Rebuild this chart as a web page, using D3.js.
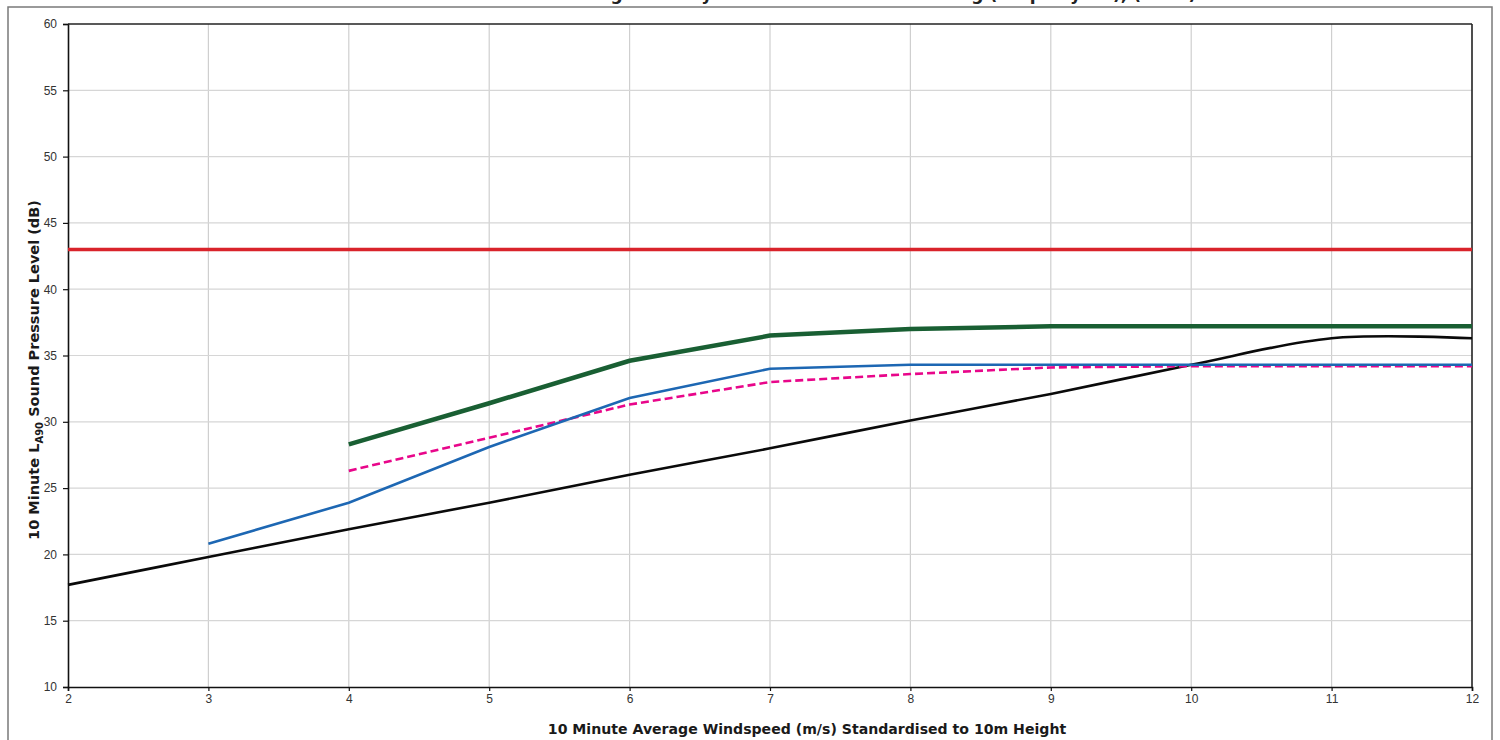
<!DOCTYPE html>
<html><head><meta charset="utf-8">
<script src="https://cdn.jsdelivr.net/npm/d3@7"></script>
<style>html,body{margin:0;padding:0;background:#fff;overflow:hidden}</style>
</head><body>
<svg id="chart" width="1500" height="740"></svg>
<script>
const titleText = "Predicted Turbine Noise against Daytime Noise Limit at Dwelling (Property H1), (LA90)";
const xTicks = [2,3,4,5,6,7,8,9,10,11,12];
const yTicks = [10,15,20,25,30,35,40,45,50,55,60];

const limitX = [2,12];
const limitY = [43,43];

const greenX = [4,5,6,7,8,9,10,11,12];
const greenY = [28.3,31.4,34.6,36.5,37.0,37.2,37.2,37.2,37.2];

const blueX = [3,4,5,6,7,8,9,10,11,12];
const blueY = [20.8,23.9,28.1,31.8,34.0,34.3,34.3,34.3,34.3,34.3];

const pinkX = [4,5,6,7,8,9,10,11,12];
const pinkY = [26.3,28.8,31.3,33.0,33.6,34.1,34.2,34.2,34.2];

const blackX = [2,3,4,5,6,7,8,9,10,11,12];
const blackY = [17.7,19.8,21.9,23.9,26.0,28.0,30.1,32.1,34.3,36.3,36.3];

const svg = d3.select("#chart");
const L=68, R=1472, T=24, B=687;
const x = d3.scaleLinear().domain([2,12]).range([L,R]);
const y = d3.scaleLinear().domain([10,60]).range([B,T]);

// outer frame
svg.append("rect").attr("x",8).attr("y",7).attr("width",1484).attr("height",760)
  .attr("fill","none").attr("stroke","#7a7a7a").attr("stroke-width",1.5);

// title (mostly above the visible area, as in the reference)
svg.append("text").attr("x",780).attr("y",0).attr("text-anchor","middle")
  .attr("font-family","DejaVu Sans, sans-serif").attr("font-weight","bold").attr("font-size",17)
  .attr("fill","#222").text(titleText);

// gridlines
svg.append("g").selectAll("line").data(xTicks.slice(1,-1)).join("line")
  .attr("x1",d=>x(d)).attr("x2",d=>x(d)).attr("y1",T).attr("y2",B)
  .attr("stroke","#cfcfcf").attr("stroke-width",1.2);
svg.append("g").selectAll("line").data(yTicks.slice(1,-1)).join("line")
  .attr("x1",L).attr("x2",R).attr("y1",d=>y(d)).attr("y2",d=>y(d))
  .attr("stroke","#d6d6d6").attr("stroke-width",1.2);

// axes
const fontTick = "Liberation Sans, Arial, sans-serif";
const xAxis = svg.append("g").attr("transform",`translate(0,${B})`)
  .call(d3.axisBottom(x).tickValues(xTicks).tickFormat(d3.format("d")).tickSize(4).tickPadding(3));
const yAxis = svg.append("g").attr("transform",`translate(${L},0)`)
  .call(d3.axisLeft(y).tickValues(yTicks).tickFormat(d3.format("d")).tickSize(5).tickPadding(6));
[xAxis,yAxis].forEach(a=>{
  a.select(".domain").attr("stroke","#111").attr("stroke-width",1.6);
  a.selectAll(".tick line").attr("stroke","#111").attr("stroke-width",1.2);
  a.selectAll(".tick text").attr("font-family",fontTick).attr("font-size",12).attr("fill","#333");
});
// top and right plot border
svg.append("line").attr("x1",L).attr("x2",R).attr("y1",T).attr("y2",T).attr("stroke","#222").attr("stroke-width",1.6);
svg.append("line").attr("x1",R).attr("x2",R).attr("y1",T).attr("y2",B).attr("stroke","#222").attr("stroke-width",1.6);

// series
const lineStraight = d3.line().x(d=>x(d[0])).y(d=>y(d[1]));
const lineSmooth = d3.line().x(d=>x(d[0])).y(d=>y(d[1])).curve(d3.curveCardinal.tension(0));
const zip = (a,b)=>a.map((v,i)=>[v,b[i]]);

svg.append("path").datum(zip(blackX,blackY)).attr("d",lineSmooth)
  .attr("fill","none").attr("stroke","#0a0a0a").attr("stroke-width",2.6);
svg.append("path").datum(zip(pinkX,pinkY)).attr("d",lineStraight)
  .attr("fill","none").attr("stroke","#e8068a").attr("stroke-width",2.6).attr("stroke-dasharray","8,4");
svg.append("path").datum(zip(blueX,blueY)).attr("d",lineStraight)
  .attr("fill","none").attr("stroke","#1d67b3").attr("stroke-width",2.6);
svg.append("path").datum(zip(greenX,greenY)).attr("d",lineStraight)
  .attr("fill","none").attr("stroke","#195f33").attr("stroke-width",4.5);
svg.append("path").datum(zip(limitX,limitY)).attr("d",lineStraight)
  .attr("fill","none").attr("stroke","#d9232b").attr("stroke-width",3.5);

// axis titles
svg.append("text").attr("x",807).attr("y",734).attr("text-anchor","middle")
  .attr("font-family","DejaVu Sans, sans-serif").attr("font-weight","bold").attr("font-size",14.1)
  .attr("fill","#1a1a1a").text("10 Minute Average Windspeed (m/s) Standardised to 10m Height");

const yl = svg.append("text").attr("transform","translate(39,370) rotate(-90)").attr("text-anchor","middle")
  .attr("font-family","DejaVu Sans, sans-serif").attr("font-weight","bold").attr("font-size",14.5)
  .attr("fill","#1a1a1a");
yl.append("tspan").text("10 Minute L");
yl.append("tspan").attr("font-size",10).attr("dy",4).text("A90");
yl.append("tspan").attr("dy",-4).text(" Sound Pressure Level (dB)");
</script>
</body></html>
